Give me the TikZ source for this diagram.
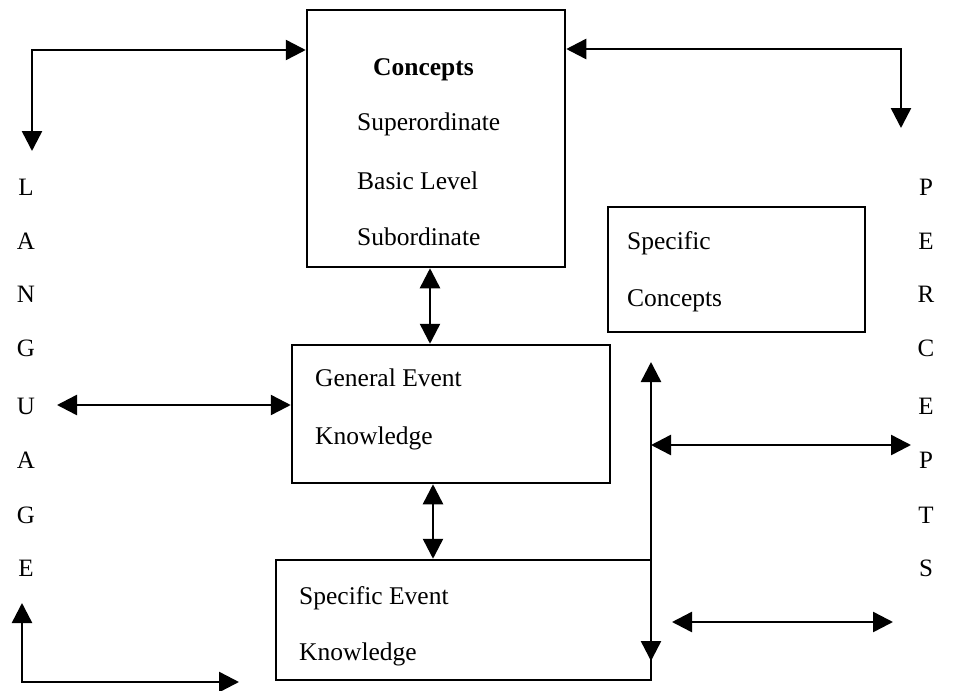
\documentclass[tikz,border=0pt]{standalone}
\usepackage{fontspec}
\setmainfont{Liberation Serif}
\usetikzlibrary{arrows.meta}
\begin{document}
\begin{tikzpicture}[x=1pt,y=-1pt,
  box/.style={draw,line width=2.5pt,minimum width=#1,inner sep=0pt},
  lbl/.style={anchor=base west,font=\fontsize{25.5}{29}\selectfont,inner sep=0pt},
  let/.style={anchor=base,font=\fontsize{25}{29}\selectfont,inner sep=0pt},
  con/.style={line width=2.5pt,{Triangle[length=20pt,width=20pt]}-{Triangle[length=20pt,width=20pt]}}
]
\useasboundingbox (0,0) rectangle (967,691);
% boxes
\node[box=258pt,minimum height=257pt] (conc) at (436,138.5) {};
\node[box=257pt,minimum height=125pt] (spec) at (736.5,269.5) {};
\node[box=318pt,minimum height=138pt] (gen) at (451,414) {};
\node[box=375pt,minimum height=120pt] (sev) at (463.5,620) {};
% box texts
\node[lbl,font=\fontsize{25.5}{29}\selectfont\bfseries] (t1) at (373,75) {Concepts};
\node[lbl] (t2) at (357,130) {Superordinate};
\node[lbl] (t3) at (357,189) {Basic Level};
\node[lbl] (t4) at (357,245) {Subordinate};
\node[lbl] (t5) at (627,249) {Specific};
\node[lbl] (t6) at (627,306) {Concepts};
\node[lbl] (t7) at (315,386) {General Event};
\node[lbl] (t8) at (315,444) {Knowledge};
\node[lbl] (t9) at (299,604) {Specific Event};
\node[lbl] (t10) at (299,660) {Knowledge};
% LANGUAGE
\node[let] (l1) at (26,195) {L};
\node[let] (l2) at (26,249) {A};
\node[let] (l3) at (26,302) {N};
\node[let] (l4) at (26,356) {G};
\node[let] (l5) at (26,414) {U};
\node[let] (l6) at (26,468) {A};
\node[let] (l7) at (26,523) {G};
\node[let] (l8) at (26,576) {E};
% PERCEPTS
\node[let] (p1) at (926,195) {P};
\node[let] (p2) at (926,249) {E};
\node[let] (p3) at (926,302) {R};
\node[let] (p4) at (926,356) {C};
\node[let] (p5) at (926,414) {E};
\node[let] (p6) at (926,468) {P};
\node[let] (p7) at (926,523) {T};
\node[let] (p8) at (926,576) {S};
% connectors
\coordinate (tlc) at (32,50);
\coordinate (tle) at (32,151);
\draw[con] (tle) -- (tlc) -- (conc.west |- tlc);
\coordinate (trc) at (901,49);
\coordinate (tre) at (901,128);
\draw[con] (conc.east |- trc) -- (trc) -- (tre);
\coordinate (a1) at (430,0);
\draw[con] (conc.south -| a1) -- (gen.north -| a1);
\coordinate (a2) at (433,0);
\draw[con] (gen.south -| a2) -- (sev.north -| a2);
\coordinate (u) at (57,405);
\draw[con] (u) -- (gen.west |- u);
\coordinate (bl1) at (22,603);
\coordinate (blc) at (22,682);
\coordinate (bl2) at (239,682);
\draw[con] (bl1) -- (blc) -- (bl2);
\coordinate (vt) at (651,362);
\coordinate (vb) at (651,661);
\draw[con] (vt) -- (vb);
\coordinate (mr) at (911,445);
\draw[con] (vt |- mr) -- (mr);
\coordinate (lr1) at (672,622);
\coordinate (lr2) at (893,622);
\draw[con] (lr1) -- (lr2);
\end{tikzpicture}
\end{document}
